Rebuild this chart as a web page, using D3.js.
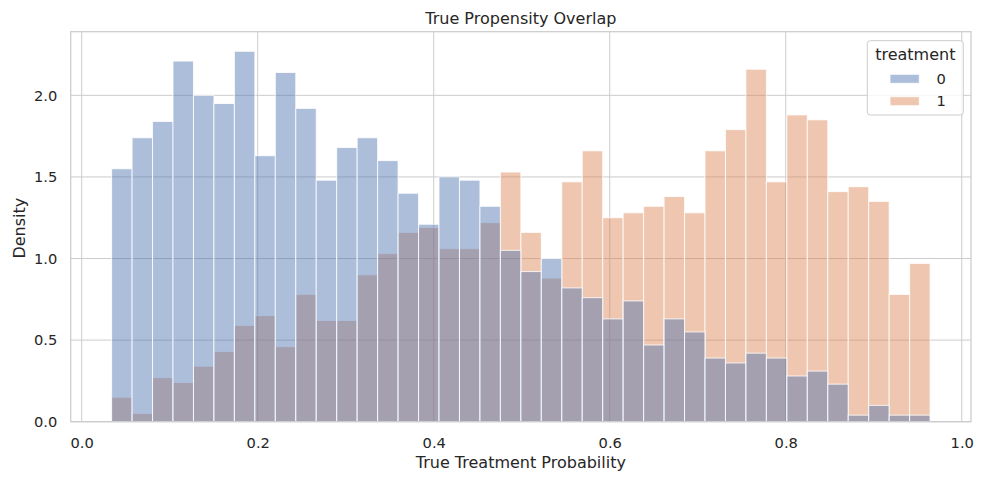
<!DOCTYPE html>
<html>
<head>
<meta charset="utf-8">
<script src="https://cdn.jsdelivr.net/npm/d3@7"></script>
<style>
  body { margin: 0; background: #fff; }
  text { font-family: "DejaVu Sans", sans-serif; fill: #262626; }
</style>
</head>
<body>
<div id="main"></div>
<script>
// Histogram bins (true treatment probability)
var binLo = 0.034;
var binHi = 0.964;
var nBins = 40;

// Density per bin
var treatment0 = [1.55, 1.74, 1.84, 2.21, 2.00, 1.95, 2.27, 1.63, 2.14, 1.92,
                  1.48, 1.68, 1.74, 1.60, 1.40, 1.21, 1.50, 1.48, 1.32, 1.05,
                  0.92, 1.00, 0.82, 0.76, 0.63, 0.74, 0.47, 0.63, 0.55, 0.39,
                  0.36, 0.42, 0.39, 0.28, 0.31, 0.23, 0.04, 0.10, 0.04, 0.04];
var treatment1 = [0.15, 0.05, 0.27, 0.24, 0.34, 0.43, 0.59, 0.65, 0.46, 0.78,
                  0.62, 0.62, 0.90, 1.03, 1.16, 1.19, 1.06, 1.06, 1.22, 1.53,
                  1.16, 0.88, 1.47, 1.66, 1.25, 1.28, 1.32, 1.38, 1.28, 1.66,
                  1.79, 2.16, 1.47, 1.88, 1.85, 1.41, 1.44, 1.35, 0.78, 0.97];

var xTicks = [0.0, 0.2, 0.4, 0.6, 0.8, 1.0];
var yTicks = [0.0, 0.5, 1.0, 1.5, 2.0];
var hueLevels = ["0", "1"];
var hueColors = ["#4c72b0", "#dd8452"];
var barAlpha = 0.46;

var totalWidth = 982;
var totalHeight = 484;
var margin = { left: 70.7, top: 31.7, right: 11, bottom: 62.3 };
var plotW = totalWidth - margin.left - margin.right;
var plotH = totalHeight - margin.top - margin.bottom;

var binW = (binHi - binLo) / nBins;
var pad = (binHi - binLo) * 0.05;

var x = d3.scaleLinear().domain([binLo - pad, binHi + pad]).range([0, plotW]);
var y = d3.scaleLinear().domain([0, 2.39]).range([plotH, 0]);

var svg = d3.select("#main").append("svg")
  .attr("width", totalWidth)
  .attr("height", totalHeight);

var g = svg.append("g")
  .attr("transform", "translate(" + margin.left + "," + margin.top + ")");

// Grid
g.selectAll(".gx").data(xTicks).enter().append("line")
  .attr("x1", function(d) { return x(d); })
  .attr("x2", function(d) { return x(d); })
  .attr("y1", 0).attr("y2", plotH)
  .attr("stroke", "#cccccc").attr("stroke-width", 1);
g.selectAll(".gy").data(yTicks).enter().append("line")
  .attr("x1", 0).attr("x2", plotW)
  .attr("y1", function(d) { return y(d); })
  .attr("y2", function(d) { return y(d); })
  .attr("stroke", "#cccccc").attr("stroke-width", 1);

// Bars: level 1 drawn first, level 0 on top (seaborn layering)
function drawBars(values, color) {
  g.append("g").selectAll("rect").data(values).enter().append("rect")
    .attr("x", function(d, i) { return x(binLo + i * binW); })
    .attr("width", function(d, i) { return x(binLo + (i + 1) * binW) - x(binLo + i * binW); })
    .attr("y", function(d) { return y(d); })
    .attr("height", function(d) { return y(0) - y(d); })
    .attr("fill", color)
    .attr("fill-opacity", barAlpha)
    .attr("stroke", "#ffffff")
    .attr("stroke-opacity", 0.8)
    .attr("stroke-width", 1);
}
drawBars(treatment1, hueColors[1]);
drawBars(treatment0, hueColors[0]);

// Spines
g.append("rect")
  .attr("x", 0).attr("y", 0)
  .attr("width", plotW).attr("height", plotH)
  .attr("fill", "none")
  .attr("stroke", "#cccccc")
  .attr("stroke-width", 1.25);

// Axes
var xAxis = g.append("g")
  .attr("transform", "translate(0," + plotH + ")")
  .call(d3.axisBottom(x).tickValues(xTicks).tickSize(0).tickPadding(15.5)
    .tickFormat(d3.format(".1f")));
var yAxis = g.append("g")
  .call(d3.axisLeft(y).tickValues(yTicks).tickSize(0).tickPadding(13.4)
    .tickFormat(d3.format(".1f")));
[xAxis, yAxis].forEach(function(a) {
  a.select(".domain").remove();
  a.selectAll("text")
    .attr("font-family", "DejaVu Sans")
    .attr("font-size", "14.67px")
    .attr("fill", "#262626");
});

// Labels
svg.append("text")
  .attr("x", margin.left + plotW / 2).attr("y", 23.5)
  .attr("text-anchor", "middle").attr("font-size", "16px")
  .text("True Propensity Overlap");
svg.append("text")
  .attr("x", margin.left + plotW / 2).attr("y", 468)
  .attr("text-anchor", "middle").attr("font-size", "16px")
  .text("True Treatment Probability");
svg.append("text")
  .attr("transform", "translate(25," + (margin.top + plotH / 2 + 1.5) + ") rotate(-90)")
  .attr("text-anchor", "middle").attr("font-size", "16px")
  .text("Density");

// Legend
var legend = svg.append("g");
legend.append("rect")
  .attr("x", 867.3).attr("y", 40.7)
  .attr("width", 96).attr("height", 74.3)
  .attr("rx", 3)
  .attr("fill", "#ffffff").attr("fill-opacity", 0.8)
  .attr("stroke", "#cccccc").attr("stroke-width", 1);
legend.append("text")
  .attr("x", 915.3).attr("y", 60)
  .attr("text-anchor", "middle").attr("font-size", "16px")
  .text("treatment");
hueLevels.forEach(function(lvl, i) {
  legend.append("rect")
    .attr("x", 890).attr("y", 74.3 + i * 22.4)
    .attr("width", 29.3).attr("height", 9)
    .attr("fill", hueColors[i]).attr("fill-opacity", barAlpha)
    .attr("stroke", "#ffffff").attr("stroke-opacity", 0.8);
  legend.append("text")
    .attr("x", 936.5).attr("y", 84 + i * 22.4)
    .attr("font-size", "14.67px")
    .text(lvl);
});
</script>
</body>
</html>
